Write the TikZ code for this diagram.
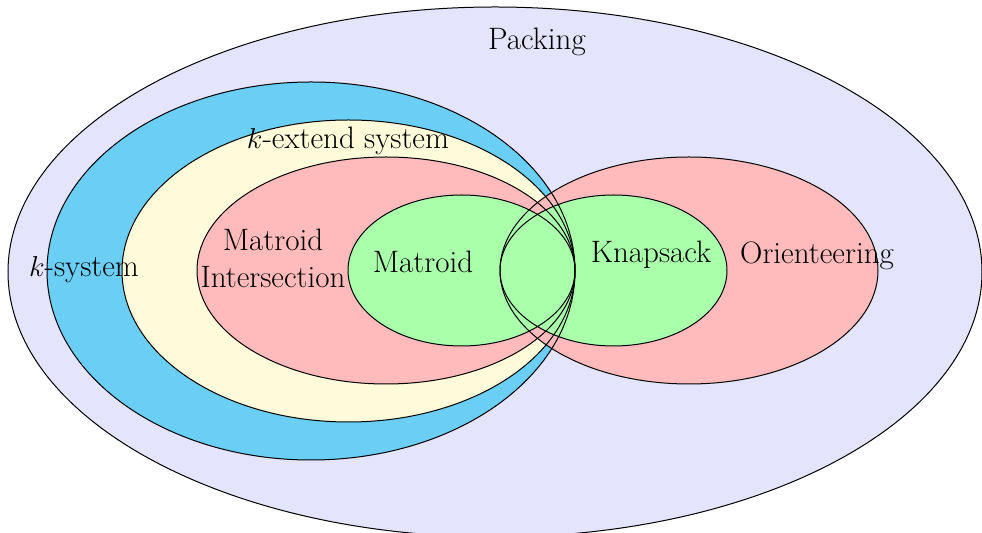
\documentclass[tikz,border=0pt]{standalone}
\begin{document}
\begin{tikzpicture}[x=0.5pt,y=-0.5pt,
  setline/.style={line width=0.5pt},
  lbl/.style={font=\fontsize{15.5}{18.5}\selectfont, inner sep=0pt, align=center}]
\definecolor{packc}{RGB}{228,228,252}
\definecolor{ksysc}{RGB}{106,206,245}
\definecolor{kextc}{RGB}{254,251,218}
\definecolor{redc}{RGB}{255,187,187}
\definecolor{greenc}{RGB}{170,255,170}
\useasboundingbox (0,0) rectangle (982,533);
\clip (0,0) rectangle (982,533);
% fills, outer to inner; the two green sets go on top of both red ones
\fill[packc]  (495,272) ellipse [x radius=487, y radius=265];
\fill[ksysc]  (311,271) ellipse [x radius=264, y radius=189];
\fill[kextc]  (348.5,271) ellipse [x radius=226.5, y radius=151];
\fill[redc]   (386,270.5) ellipse [x radius=189, y radius=113.5];
\fill[redc]   (689,270.5) ellipse [x radius=189, y radius=113.5];
\fill[greenc] (461.5,270.5) ellipse [x radius=113.5, y radius=75.5];
\fill[greenc] (613.5,270.5) ellipse [x radius=113.5, y radius=75.5];
% outlines
\draw[setline] (495,272) ellipse [x radius=487, y radius=265];
\draw[setline] (311,271) ellipse [x radius=264, y radius=189];
\draw[setline] (348.5,271) ellipse [x radius=226.5, y radius=151];
\draw[setline] (386,270.5) ellipse [x radius=189, y radius=113.5];
\draw[setline] (689,270.5) ellipse [x radius=189, y radius=113.5];
\draw[setline] (461.5,270.5) ellipse [x radius=113.5, y radius=75.5];
\draw[setline] (613.5,270.5) ellipse [x radius=113.5, y radius=75.5];
% labels
\node[lbl] (packing) at (537,42) {Packing};
\node[lbl] (kext) at (348,141) {$k$-extend system};
\node[lbl] (ksys) at (84,270) {$k$-system};
\node[lbl] (mint) at (273,258) {Matroid\\Intersection};
\node[lbl] (mat) at (423,262) {Matroid};
\node[lbl] (knap) at (651,255) {Knapsack};
\node[lbl] (orient) at (817,256) {Orienteering};
\end{tikzpicture}
\end{document}
